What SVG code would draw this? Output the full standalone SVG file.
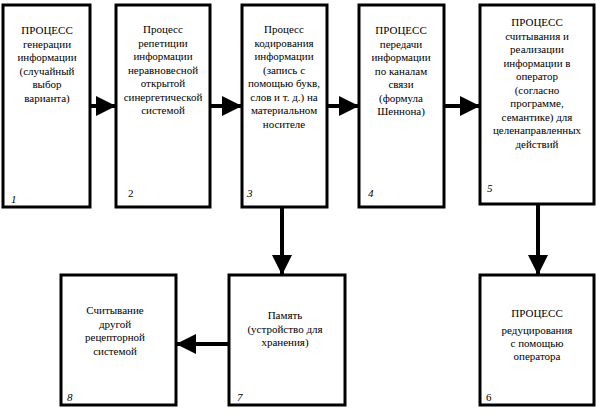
<svg xmlns="http://www.w3.org/2000/svg" width="596" height="414" viewBox="0 0 596 414">
<style>
.box{fill:#fff;stroke:#000;stroke-width:3}
.t{font-family:'Liberation Serif','Times New Roman','DejaVu Serif',serif;font-size:11px;fill:#000;text-anchor:middle}
.n{font-family:'Liberation Serif','Times New Roman','DejaVu Serif',serif;font-size:11px;fill:#000;font-style:italic}
.c{stroke:#000;stroke-width:4;fill:none}
</style>
<defs>
<marker id="ah" markerUnits="userSpaceOnUse" markerWidth="20" markerHeight="20" refX="20" refY="10" orient="auto" viewBox="0 0 20 20">
<path d="M0,0 L20,10 L0,20 z" fill="#000"/>
</marker>
</defs>
<rect width="596" height="414" fill="#fff"/>
<g id="connectors">
<line class="c" x1="90" y1="106" x2="116" y2="106" marker-end="url(#ah)"/>
<line class="c" x1="210" y1="106" x2="242" y2="106" marker-end="url(#ah)"/>
<line class="c" x1="327" y1="106" x2="359" y2="106" marker-end="url(#ah)"/>
<line class="c" x1="444" y1="106" x2="480" y2="106" marker-end="url(#ah)"/>
<line class="c" x1="538" y1="205" x2="538" y2="275" marker-end="url(#ah)"/>
<line class="c" x1="282" y1="208" x2="282" y2="275" marker-end="url(#ah)"/>
<line class="c" x1="229" y1="344" x2="176" y2="344" marker-end="url(#ah)"/>
</g>
<g id="node1">
<rect class="box" x="3" y="5" width="87" height="202"/>
<text class="t" x="47" y="34">ПРОЦЕСС</text>
<text class="t" x="47" y="47.5">генерации</text>
<text class="t" x="47" y="61">информации</text>
<text class="t" x="47" y="74.5">(случайный</text>
<text class="t" x="47" y="88">выбор</text>
<text class="t" x="47" y="101.5">варианта)</text>
<text class="n" x="11" y="203">1</text>
</g>
<g id="node2">
<rect class="box" x="116" y="5" width="94" height="202"/>
<text class="t" x="163" y="33">Процесс</text>
<text class="t" x="163" y="46.5">репетиции</text>
<text class="t" x="163" y="60">информации</text>
<text class="t" x="163" y="73.5">неравновесной</text>
<text class="t" x="163" y="87">открытой</text>
<text class="t" x="163" y="100.5">синергетической</text>
<text class="t" x="163" y="114">системой</text>
<text class="t" x="128" y="197" style="text-anchor:start">2</text>
</g>
<g id="node3">
<rect class="box" x="242" y="5" width="85" height="202"/>
<text class="t" x="284" y="33">Процесс</text>
<text class="t" x="284" y="46.5">кодирования</text>
<text class="t" x="284" y="60">информации</text>
<text class="t" x="284" y="73.5">(запись с</text>
<text class="t" x="284" y="87">помощью букв,</text>
<text class="t" x="284" y="100.5">слов и т. д.) на</text>
<text class="t" x="284" y="114">материальном</text>
<text class="t" x="284" y="127.5">носителе</text>
<text class="n" x="247" y="197">3</text>
</g>
<g id="node4">
<rect class="box" x="359" y="5" width="85" height="202"/>
<text class="t" x="401" y="34">ПРОЦЕСС</text>
<text class="t" x="401" y="47.5">передачи</text>
<text class="t" x="401" y="61">информации</text>
<text class="t" x="401" y="74.5">по каналам</text>
<text class="t" x="401" y="88">связи</text>
<text class="t" x="401" y="101.5">(формула</text>
<text class="t" x="401" y="115">Шеннона)</text>
<text class="n" x="368" y="197">4</text>
</g>
<g id="node5">
<rect class="box" x="480" y="5" width="114" height="199"/>
<text class="t" x="537" y="26">ПРОЦЕСС</text>
<text class="t" x="537" y="39.5">считывания и</text>
<text class="t" x="537" y="53">реализации</text>
<text class="t" x="537" y="66.5">информации в</text>
<text class="t" x="537" y="80">оператор</text>
<text class="t" x="537" y="93.5">(согласно</text>
<text class="t" x="537" y="107">программе,</text>
<text class="t" x="537" y="120.5">семантике) для</text>
<text class="t" x="537" y="134">целенаправленных</text>
<text class="t" x="537" y="147.5">действий</text>
<text class="n" x="487" y="192">5</text>
</g>
<g id="node6">
<rect class="box" x="480" y="275" width="114" height="130"/>
<text class="t" x="537" y="317">ПРОЦЕСС</text>
<text class="t" x="537" y="334">редуцирования</text>
<text class="t" x="537" y="347">с помощью</text>
<text class="t" x="537" y="360">оператора</text>
<text class="t" x="486" y="401" style="text-anchor:start">6</text>
</g>
<g id="node7">
<rect class="box" x="229" y="275" width="116" height="130"/>
<text class="t" x="285" y="319">Память</text>
<text class="t" x="285" y="332.5">(устройство для</text>
<text class="t" x="285" y="346">хранения)</text>
<text class="n" x="237" y="401">7</text>
</g>
<g id="node8">
<rect class="box" x="61" y="275" width="115" height="130"/>
<text class="t" x="115" y="314">Считывание</text>
<text class="t" x="115" y="327.5">другой</text>
<text class="t" x="115" y="341">рецепторной</text>
<text class="t" x="115" y="354.5">системой</text>
<text class="n" x="67" y="401">8</text>
</g>
</svg>
